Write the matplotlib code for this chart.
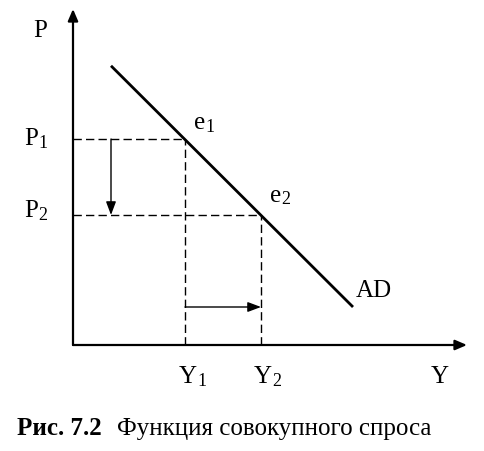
import matplotlib
matplotlib.use("Agg")
from matplotlib import pyplot as plt

# data (arbitrary units, origin at axes crossing)
ad_y = [0.95, 7.0]
ad_p = [6.98, 0.95]
y_levels = [2.8, 4.7]      # Y1, Y2
p_levels = [5.15, 3.25]    # P1, P2
arrow_y_pos = 0.95         # x position of the price-fall arrow
arrow_p_pos = 0.95         # height of the output-rise arrow
axis_y_max = 9.85
axis_p_max = 8.4

LBL = "Liberation Serif"
fs = 18
fs_sub = 13

fig = plt.figure(figsize=(4.84, 4.51), dpi=100)
ax = fig.add_axes([0, 0, 1, 1])
ax.set_xlim(-73 / 40, 411 / 40)
ax.set_ylim(-106 / 40, 345 / 40)
ax.axis("off")

# axes with arrows
head = dict(arrowstyle="-|>,head_length=0.7,head_width=0.3", color="black",
            lw=1.6, shrinkA=0, shrinkB=0)
ax.annotate("", xy=(axis_y_max, 0), xytext=(0, 0), arrowprops=head)
ax.annotate("", xy=(0, axis_p_max), xytext=(0, 0), arrowprops=head)

# AD curve
ax.plot(ad_y, ad_p, color="black", lw=2.0, solid_capstyle="butt")

# dashed guides
for yv, pv in zip(y_levels, p_levels):
    ax.plot([0, yv], [pv, pv], color="black", lw=1.0, dashes=(6, 3))
    ax.plot([yv, yv], [0, pv], color="black", lw=1.0, dashes=(6, 3))

# shift arrows
small = dict(arrowstyle="-|>,head_length=0.8,head_width=0.3", color="black",
             lw=1.0, shrinkA=0, shrinkB=0)
ax.annotate("", xy=(arrow_y_pos, p_levels[1]), xytext=(arrow_y_pos, p_levels[0]),
            arrowprops=small)
ax.annotate("", xy=(y_levels[1], arrow_p_pos), xytext=(y_levels[0], arrow_p_pos),
            arrowprops=small)


def px(x, y):
    return (x - 73) / 40, (345 - y) / 40


def label(main, sub, x_split, y_mid):
    # main letter ends at x_split, subscript starts right after it
    if sub:
        ax.text(*px(x_split, y_mid), main, family=LBL, fontsize=fs,
                ha="right", va="center")
        ax.text(*px(x_split, y_mid + 4), sub, family=LBL, fontsize=fs_sub,
                ha="left", va="center")
    else:
        ax.text(*px(x_split, y_mid), main, family=LBL, fontsize=fs,
                ha="center", va="center")


label("P", None, 40, 31)
label("P", "1", 38, 139)
label("P", "2", 38, 211)
label("e", "1", 205, 123)
label("e", "2", 281, 196)
label("AD", None, 374, 291)
label("Y", "1", 197, 377)
label("Y", "2", 272, 377)
label("Y", None, 439.5, 377)

ax.text(*px(102, 435), "Рис. 7.2", family="Liberation Serif", fontsize=18,
        fontweight="bold", ha="right", va="baseline")
ax.text(*px(117, 435), "Функция совокупного спроса", family="Liberation Serif",
        fontsize=18, ha="left", va="baseline")

fig.savefig("out.png", dpi=100)
